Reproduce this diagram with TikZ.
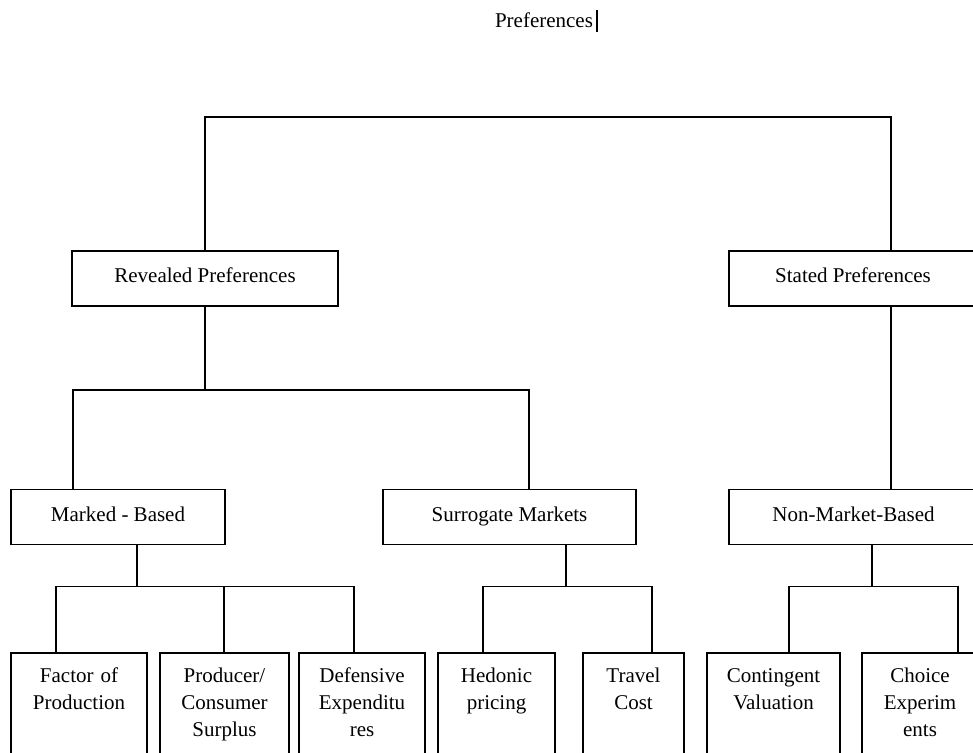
\documentclass[tikz,border=0pt]{standalone}
\usepackage{fontspec}
\setmainfont{Liberation Serif}
\usetikzlibrary{positioning, calc}

\tikzset{
  catbox/.style={draw, line width=1.7pt, inner sep=0pt, minimum height=55pt, text height=14pt, text depth=6pt},
  leafbox/.style={draw, line width=1.7pt, anchor=north, inner sep=0pt, align=center, text height=30pt, text depth=130pt},
  link/.style={line width=1.7pt}
}

\begin{document}
\begin{tikzpicture}[x=1pt, y=-1pt, font=\fontsize{21}{27}\selectfont]
  \useasboundingbox (0,0) rectangle (973,752);
  \clip (0,0) rectangle (973,752);

  % Title with the cursor bar
  \node[anchor=base, inner sep=0pt] (title) at (544,28) {Preferences};
  \draw[line width=2.5pt] ([xshift=4pt]title.base east) ++(0,4) -- ++(0,-22);

  % First level
  \node[catbox, minimum width=266pt] (revealed) at (205,278.5) {Revealed Preferences};
  \node[catbox, minimum width=248pt] (stated) at (853,278.5) {Stated Preferences};

  % Second level
  \node[catbox, minimum width=214pt] (marked) at (118,517) {Marked - Based};
  \node[catbox, minimum width=253pt] (surrogate) at (509.5,517) {Surrogate Markets};
  \node[catbox, minimum width=249pt] (nonmarket) at (853.5,517) {Non-Market-Based};

  % Methods
  \node[leafbox, text width=136pt] (factor) at (79,652) {Factor of\\Production};
  \node[leafbox, text width=129pt] (producer) at (224.5,652) {Producer/\\Consumer\\Surplus};
  \node[leafbox, text width=126pt] (defensive) at (362,652) {Defensive\\Expenditu\\res};
  \node[leafbox, text width=117pt] (hedonic) at (496.5,652) {Hedonic\\pricing};
  \node[leafbox, text width=101pt] (travel) at (633.5,652) {Travel\\Cost};
  \node[leafbox, text width=133pt] (contingent) at (773.5,652) {Contingent\\Valuation};
  \node[leafbox, text width=116pt] (choice) at (920,652) {Choice\\Experim\\ents};

  % Connectors
  \draw[link] (revealed.north) -- ++(0,-133) -| ([xshift=38pt]stated.north);
  \draw[link] (revealed.south) -- ++(0,83) coordinate (rp-fork);
  \draw[link] ([xshift=-45pt]marked.north) |- (rp-fork) -| ([xshift=19.5pt]surrogate.north);
  \draw[link] ([xshift=38pt]stated.south) -- ([xshift=37.5pt]nonmarket.north);

  \draw[link] ([xshift=19pt]marked.south) -- ++(0,41) coordinate (mb-fork);
  \draw[link] ([xshift=-23pt]factor.north) |- (mb-fork) -| ([xshift=-8pt]defensive.north);
  \draw[link] ([xshift=-0.5pt]producer.north) -- ([xshift=-0.5pt]producer.north |- mb-fork);

  \draw[link] ([xshift=56.5pt]surrogate.south) -- ++(0,41) coordinate (sm-fork);
  \draw[link] ([xshift=-13.5pt]hedonic.north) |- (sm-fork) -| ([xshift=18.5pt]travel.north);

  \draw[link] ([xshift=18.5pt]nonmarket.south) -- ++(0,41) coordinate (nm-fork);
  \draw[link] ([xshift=15.5pt]contingent.north) |- (nm-fork) -| ([xshift=38pt]choice.north);
\end{tikzpicture}
\end{document}
